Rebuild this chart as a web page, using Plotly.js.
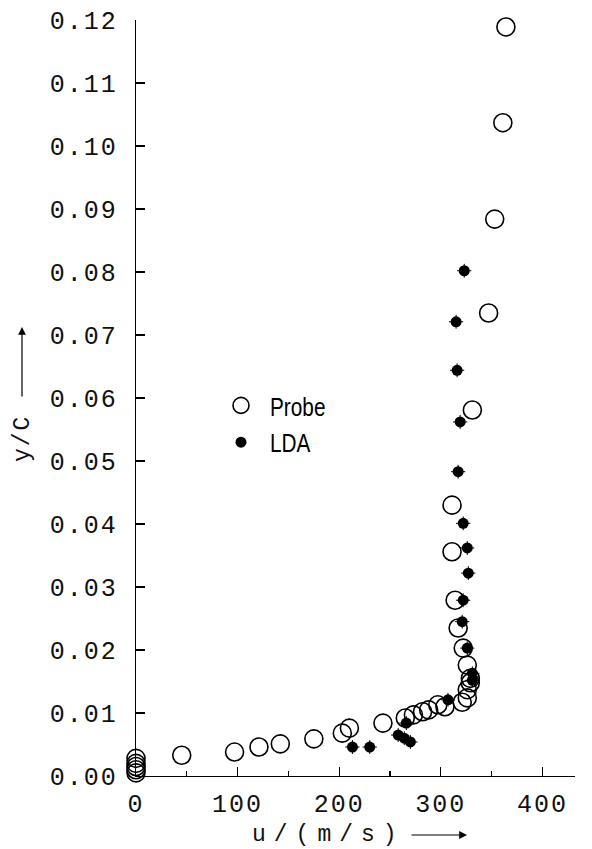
<!DOCTYPE html>
<html>
<head>
<meta charset="utf-8">
<script src="https://cdn.plot.ly/plotly-3.0.1.min.js"></script>
<style>
html,body{margin:0;padding:0;background:#fff;}
#chart{width:592px;height:849px;}
.xtick text,.ytick text{letter-spacing:2px;}
.legendtext{transform:scaleX(0.8);transform-box:fill-box;transform-origin:left center;}
</style>
</head>
<body>
<div id="chart"></div>
<script>
// Probe (open circles)
const probeU = [0, 0, 0, 0, 0, 45, 97, 121, 142, 175, 203, 210, 243, 265, 273, 282, 288, 297, 304, 321, 326, 326, 329, 329, 326, 322, 317, 314, 311, 311, 331, 347, 353, 361, 364];
const probeY = [0.0005, 0.0010, 0.0015, 0.0020, 0.0028, 0.0033, 0.0038, 0.0046, 0.0051, 0.0059, 0.0068, 0.0076, 0.0084, 0.0092, 0.0097, 0.0102, 0.0105, 0.0113, 0.0110, 0.0117, 0.0124, 0.0137, 0.0148, 0.0155, 0.0176, 0.0203, 0.0235, 0.0279, 0.0356, 0.0430, 0.0581, 0.0735, 0.0884, 0.1037, 0.1189];
// LDA (filled dots)
const ldaU = [213, 230, 258, 264, 270, 266, 307, 331, 331, 326, 321, 322, 327, 326, 322, 317, 319, 316, 315, 323];
const ldaY = [0.0046, 0.0046, 0.0065, 0.0060, 0.0054, 0.0084, 0.0121, 0.0152, 0.0163, 0.0203, 0.0245, 0.0279, 0.0322, 0.0362, 0.0401, 0.0483, 0.0562, 0.0644, 0.0721, 0.0802];
const ldaErrU = 7;      // m/s
const ldaErrY = 0.0011; // y/C

const xTicks = [0, 100, 200, 300, 400];
const yTicks = [0, 0.01, 0.02, 0.03, 0.04, 0.05, 0.06, 0.07, 0.08, 0.09, 0.10, 0.11, 0.12];
const xTitle = 'u/(m/s)';
const yTitle = 'y/C';

const tickFont = {family: 'Liberation Mono, DejaVu Sans Mono, monospace', size: 25, color: '#111'};
const titleFont = {family: 'Liberation Mono, DejaVu Sans Mono, monospace', size: 23, color: '#111'};

const traces = [
  {
    x: probeU, y: probeY, name: 'Probe', type: 'scatter', mode: 'markers',
    marker: {symbol: 'circle-open', size: 18, color: '#000', line: {width: 1.6, color: '#000'}},
    cliponaxis: false
  },
  {
    x: ldaU, y: ldaY, name: 'LDA', type: 'scatter', mode: 'markers',
    marker: {symbol: 'circle', size: 11, color: '#000'},
    error_x: {type: 'constant', value: ldaErrU, color: '#000', thickness: 1, width: 0},
    error_y: {type: 'constant', value: ldaErrY, color: '#000', thickness: 1, width: 0},
    cliponaxis: false
  }
];

// pixel helpers for paper placement of titles/arrows
const L = 136, T = 20, W = 439, H = 756;
const px = v => (v - L) / W;
const py = v => (T + H - v) / H;

const layout = {
  width: 592, height: 849,
  margin: {l: 136, r: 17, t: 20, b: 73},
  paper_bgcolor: '#fff', plot_bgcolor: '#fff',
  showlegend: true,
  legend: {
    x: px(212), y: py(382), xanchor: 'left', yanchor: 'top',
    font: {family: 'Liberation Sans, Arial, sans-serif', size: 26, color: '#000'},
    bgcolor: 'rgba(0,0,0,0)', tracegroupgap: 0, itemwidth: 48
  },
  xaxis: {
    range: [0, 432], showgrid: false, zeroline: false,
    showline: true, linecolor: '#000', linewidth: 1.2,
    tickmode: 'array', tickvals: xTicks, ticktext: xTicks.map(String),
    ticks: 'inside', ticklen: 9, tickcolor: '#000', tickwidth: 1.2,
    minor: {dtick: 50, ticks: 'inside', ticklen: 5, tickcolor: '#000', showgrid: false},
    tickfont: tickFont, ticklabelstandoff: 5
  },
  yaxis: {
    range: [0, 0.12], showgrid: false, zeroline: false,
    showline: true, linecolor: '#000', linewidth: 1.2,
    tickmode: 'array', tickvals: yTicks, ticktext: yTicks.map(v => v.toFixed(2)),
    ticks: 'inside', ticklen: 9, tickcolor: '#000', tickwidth: 1.2,
    tickfont: tickFont, ticklabelstandoff: 12
  },
  annotations: [
    {xref: 'paper', yref: 'paper', x: px(328), y: py(835), text: xTitle, font: titleFont,
     showarrow: false, xanchor: 'center', yanchor: 'middle'},
    {xref: 'paper', yref: 'paper', x: px(23), y: py(438), text: yTitle, font: titleFont,
     showarrow: false, xanchor: 'center', yanchor: 'middle', textangle: -90},
    {xref: 'paper', yref: 'paper', x: px(22), y: py(327), ax: 0, ay: 71,
     text: '', showarrow: true, arrowhead: 2, arrowsize: 1.3, arrowwidth: 1.2, arrowcolor: '#000', standoff: 0},
    {xref: 'paper', yref: 'paper', x: px(467), y: py(835), ax: -57, ay: 0,
     text: '', showarrow: true, arrowhead: 2, arrowsize: 1.3, arrowwidth: 1.2, arrowcolor: '#000', standoff: 0}
  ]
};

Plotly.newPlot('chart', traces, layout, {displayModeBar: false, staticPlot: true}).then(() => {
  document.querySelectorAll('.annotation-text').forEach(t => {
    if (t.textContent === xTitle) t.style.letterSpacing = '8px';
    if (t.textContent === yTitle) t.style.letterSpacing = '2px';
  });
});
</script>
</body>
</html>
